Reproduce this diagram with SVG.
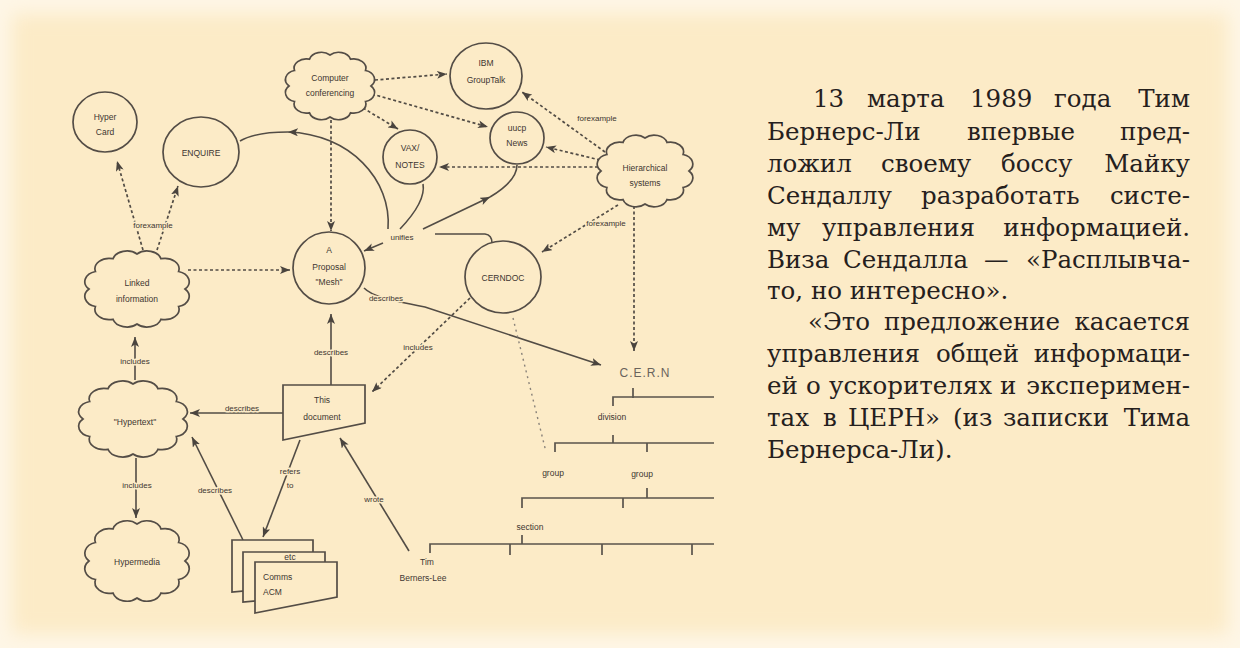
<svg xmlns="http://www.w3.org/2000/svg" width="1240" height="648" viewBox="0 0 1240 648">
<defs>
<filter id="soft" x="-5%" y="-5%" width="110%" height="110%"><feGaussianBlur stdDeviation="9"/></filter>
<marker id="ah" markerUnits="userSpaceOnUse" markerWidth="11" markerHeight="8" refX="10" refY="4" orient="auto"><path d="M0,0 L10,4 L0,8 L2.5,4 Z" fill="#4a443e"/></marker>
<path id="cloud" vector-effect="non-scaling-stroke" d="M1,0 A.3,.3 0 0 1 .866,.5 A.3,.3 0 0 1 .5,.866 A.3,.3 0 0 1 0,1 A.3,.3 0 0 1 -.5,.866 A.3,.3 0 0 1 -.866,.5 A.3,.3 0 0 1 -1,0 A.3,.3 0 0 1 -.866,-.5 A.3,.3 0 0 1 -.5,-.866 A.3,.3 0 0 1 0,-1 A.3,.3 0 0 1 .5,-.866 A.3,.3 0 0 1 .866,-.5 A.3,.3 0 0 1 1,0 Z"/>
<style>
.shape{fill:#fcebc7;stroke:#544d46;stroke-width:1.7}
.ln{fill:none;stroke:#524c45;stroke-width:1.6}
.dt{fill:none;stroke:#524c45;stroke-width:1.7;stroke-dasharray:3 2.5}
.lt{fill:none;stroke:#8a837a;stroke-width:1.4;stroke-dasharray:2 4}
.lbl{font-family:"Liberation Sans",Arial,sans-serif;font-size:8px;fill:#3d3631;text-anchor:middle;stroke:#fcebc7;stroke-width:3;paint-order:stroke;stroke-linejoin:round}
.nt{font-family:"Liberation Sans",Arial,sans-serif;font-size:8.5px;fill:#3d3631;text-anchor:middle}
.tree{fill:none;stroke:#5a544c;stroke-width:1.7}
.body{font-family:"DejaVu Serif","Liberation Serif",serif;font-size:24.5px;fill:#25201d}
.end{text-anchor:end}
</style>
</defs>
<rect width="1240" height="648" fill="#fef6e6"/>
<rect x="12" y="14" width="1216" height="620" fill="#fcebc7" filter="url(#soft)"/>

<g id="connectors">
<path class="dt" d="M375,80 L447,74" marker-end="url(#ah)"/>
<path class="dt" d="M372,94 L488,127" marker-end="url(#ah)"/>
<path class="dt" d="M363,108 L398,129" marker-end="url(#ah)"/>
<path class="dt" d="M331,120 L331,231" marker-end="url(#ah)"/>
<path class="dt" d="M605,152 L522,92" marker-end="url(#ah)"/>
<path class="dt" d="M600,160 L546,147" marker-end="url(#ah)"/>
<path class="dt" d="M598,167 L439,167" marker-end="url(#ah)"/>
<path class="dt" d="M618,205 L542,252" marker-end="url(#ah)"/>
<path class="dt" d="M634,206 L634,351" marker-end="url(#ah)"/>
<path class="dt" d="M188,270 L290,270" marker-end="url(#ah)"/>
<path class="dt" d="M143,250 L117,161" marker-end="url(#ah)"/>
<path class="dt" d="M157,250 L178,186" marker-end="url(#ah)"/>
<path class="ln" d="M388,229 C392,180 350,134 288,132" marker-end="url(#ah)"/>
<path class="ln" d="M288,132 C265,132 250,135 240,141"/>
<path class="ln" d="M400,229 C418,210 425,195 423,184"/>
<path class="ln" d="M423,229 L490,197" marker-end="url(#ah)"/>
<path class="ln" d="M490,197 C505,188 517,178 517,165"/>
<path class="ln" d="M383,243 L364,251" marker-end="url(#ah)"/>
<path class="ln" d="M435,234 L485,234 Q492,235 492,243"/>
<path class="ln" d="M364,288 C372,296 385,299 425,307 L601,365" marker-end="url(#ah)"/>
<path class="dt" d="M470,298 L372,392" marker-end="url(#ah)"/>
<path class="lt" d="M513,318 L546,452"/>
<path class="ln" d="M331,386 L331,314" marker-end="url(#ah)"/>
<path class="ln" d="M135,380 L135,337" marker-end="url(#ah)"/>
<path class="ln" d="M283,413 L190,413" marker-end="url(#ah)"/>
<path class="ln" d="M136,458 L136,518" marker-end="url(#ah)"/>
<path class="ln" d="M243,540 L192,437" marker-end="url(#ah)"/>
<path class="ln" d="M300,440 L263,537" marker-end="url(#ah)"/>
<path class="ln" d="M409,551 L340,438" marker-end="url(#ah)"/>
<text class="lbl" x="597" y="121">forexample</text>
<text class="lbl" x="606" y="226">forexample</text>
<text class="lbl" x="153" y="228">forexample</text>
<text class="lbl" x="402" y="240">unifies</text>
<text class="lbl" x="386" y="301">describes</text>
<text class="lbl" x="418" y="350">includes</text>
<text class="lbl" x="331" y="355">describes</text>
<text class="lbl" x="135" y="364">includes</text>
<text class="lbl" x="242" y="411">describes</text>
<text class="lbl" x="137" y="488">includes</text>
<text class="lbl" x="215" y="493">describes</text>
<text class="lbl" x="290" y="474">refers</text>
<text class="lbl" x="290" y="488">to</text>
<text class="lbl" x="374" y="502">wrote</text>
</g>

<g id="hypercard"><ellipse class="shape" cx="105" cy="122" rx="32" ry="30"/><text class="nt" x="105" y="120">Hyper</text><text class="nt" x="105" y="135">Card</text></g>
<g id="enquire"><ellipse class="shape" cx="201" cy="152" rx="38" ry="35"/><text class="nt" x="201" y="156">ENQUIRE</text></g>
<g id="computer-conferencing"><use href="#cloud" class="shape" transform="translate(330,86) scale(41,31)"/><text class="nt" x="330" y="81">Computer</text><text class="nt" x="330" y="96">conferencing</text></g>
<g id="ibm-grouptalk"><ellipse class="shape" cx="486" cy="76" rx="36" ry="33"/><text class="nt" x="486" y="66">IBM</text><text class="nt" x="486" y="83">GroupTalk</text></g>
<g id="uucp-news"><ellipse class="shape" cx="517" cy="138" rx="27" ry="26"/><text class="nt" x="517" y="131">uucp</text><text class="nt" x="517" y="146">News</text></g>
<g id="vax-notes"><ellipse class="shape" cx="410" cy="157" rx="27" ry="27"/><text class="nt" x="410" y="151">VAX/</text><text class="nt" x="410" y="168">NOTES</text></g>
<g id="hierarchical-systems"><use href="#cloud" class="shape" transform="translate(645,171) scale(44,33)"/><text class="nt" x="645" y="171">Hierarchical</text><text class="nt" x="645" y="186">systems</text></g>
<g id="proposal"><ellipse class="shape" cx="329" cy="268" rx="36" ry="36"/><text class="nt" x="329" y="253">A</text><text class="nt" x="329" y="270">Proposal</text><text class="nt" x="329" y="285">"Mesh"</text></g>
<g id="cerndoc"><ellipse class="shape" cx="503" cy="277" rx="38" ry="36"/><text class="nt" x="503" y="281">CERNDOC</text></g>
<g id="linked-information"><use href="#cloud" class="shape" transform="translate(137,289) scale(48,35)"/><text class="nt" x="137" y="286">Linked</text><text class="nt" x="137" y="302">information</text></g>
<g id="hypertext"><use href="#cloud" class="shape" transform="translate(133,419) scale(50,35)"/><text class="nt" x="135" y="425">"Hypertext"</text></g>
<g id="hypermedia"><use href="#cloud" class="shape" transform="translate(137,561) scale(48,37)"/><text class="nt" x="137" y="565">Hypermedia</text></g>
<g id="this-document"><path class="shape" d="M283,385 H365 V423 L283,440 Z"/><text class="nt" x="322" y="403">This</text><text class="nt" x="322" y="420">document</text></g>
<g id="comms-acm">
<path class="shape" d="M232,540 H313 V585 L232,592 Z"/>
<path class="shape" d="M243,552 H325 V595 L243,602 Z"/>
<text class="nt" x="290" y="560">etc</text>
<path class="shape" d="M255,562 H337 V597 L255,613 Z"/>
<text class="nt" x="263" y="580" style="text-anchor:start">Comms</text>
<text class="nt" x="263" y="595" style="text-anchor:start">ACM</text>
</g>
<g id="tim-berners-lee"><text class="nt" x="427" y="565">Tim</text><text class="nt" x="423" y="581">Berners-Lee</text></g>
<g id="cern-tree">
<text x="645" y="377" style="font-family:'Liberation Sans',Arial,sans-serif;font-size:12px;fill:#6a635c;text-anchor:middle;letter-spacing:1px">C.E.R.N</text>
<path class="tree" d="M633,388 V398 M613,406 V397 H714 M613,435 V443 M555,452 V443 H714 M647,443 V452 M647,488 V498 M522,508 V498 H714 M623,498 V508 M522,535 V544 M430,553 V544 H714 M510,544 V555 M602,544 V555 M692,544 V555"/>
<text class="nt" x="612" y="420">division</text>
<text class="nt" x="553" y="476">group</text>
<text class="nt" x="642" y="477">group</text>
<text class="nt" x="530" y="530">section</text>
</g>

<g id="caption" class="body">
<text y="107"><tspan x="813">13</tspan><tspan x="867">марта</tspan><tspan x="970">1989</tspan><tspan x="1054">года</tspan></text><text class="end" x="1190" y="107">Тим</text>
<text y="140"><tspan x="767">Бернерс-Ли</tspan><tspan x="967">впервые</tspan></text><text class="end" x="1190" y="140">пред-</text>
<text y="172"><tspan x="767">ложил</tspan><tspan x="881">своему</tspan><tspan x="1001">боссу</tspan></text><text class="end" x="1190" y="172">Майку</text>
<text y="204"><tspan x="767">Сендаллу</tspan><tspan x="921">разработать</tspan></text><text class="end" x="1190" y="204">систе-</text>
<text y="236"><tspan x="767">му</tspan><tspan x="822">управления</tspan></text><text class="end" x="1190" y="236">информацией.</text>
<text y="268"><tspan x="767">Виза</tspan><tspan x="843">Сендалла</tspan><tspan x="984">—</tspan></text><text class="end" x="1190" y="268">«Расплывча-</text>
<text y="299" x="767">то, но интересно».</text>
<text y="330"><tspan x="808">«Это</tspan><tspan x="884">предложение</tspan></text><text class="end" x="1190" y="330">касается</text>
<text y="362"><tspan x="767">управления</tspan><tspan x="936">общей</tspan></text><text class="end" x="1190" y="362">информаци-</text>
<text y="394"><tspan x="767">ей</tspan><tspan x="806">о</tspan><tspan x="829">ускорителях</tspan><tspan x="1000">и</tspan></text><text class="end" x="1190" y="394">эксперимен-</text>
<text y="426"><tspan x="767">тах</tspan><tspan x="823">в</tspan><tspan x="848">ЦЕРН»</tspan><tspan x="953">(из</tspan><tspan x="1003">записки</tspan></text><text class="end" x="1190" y="426">Тима</text>
<text y="458" x="767">Бернерса-Ли).</text>
</g>
</svg>
